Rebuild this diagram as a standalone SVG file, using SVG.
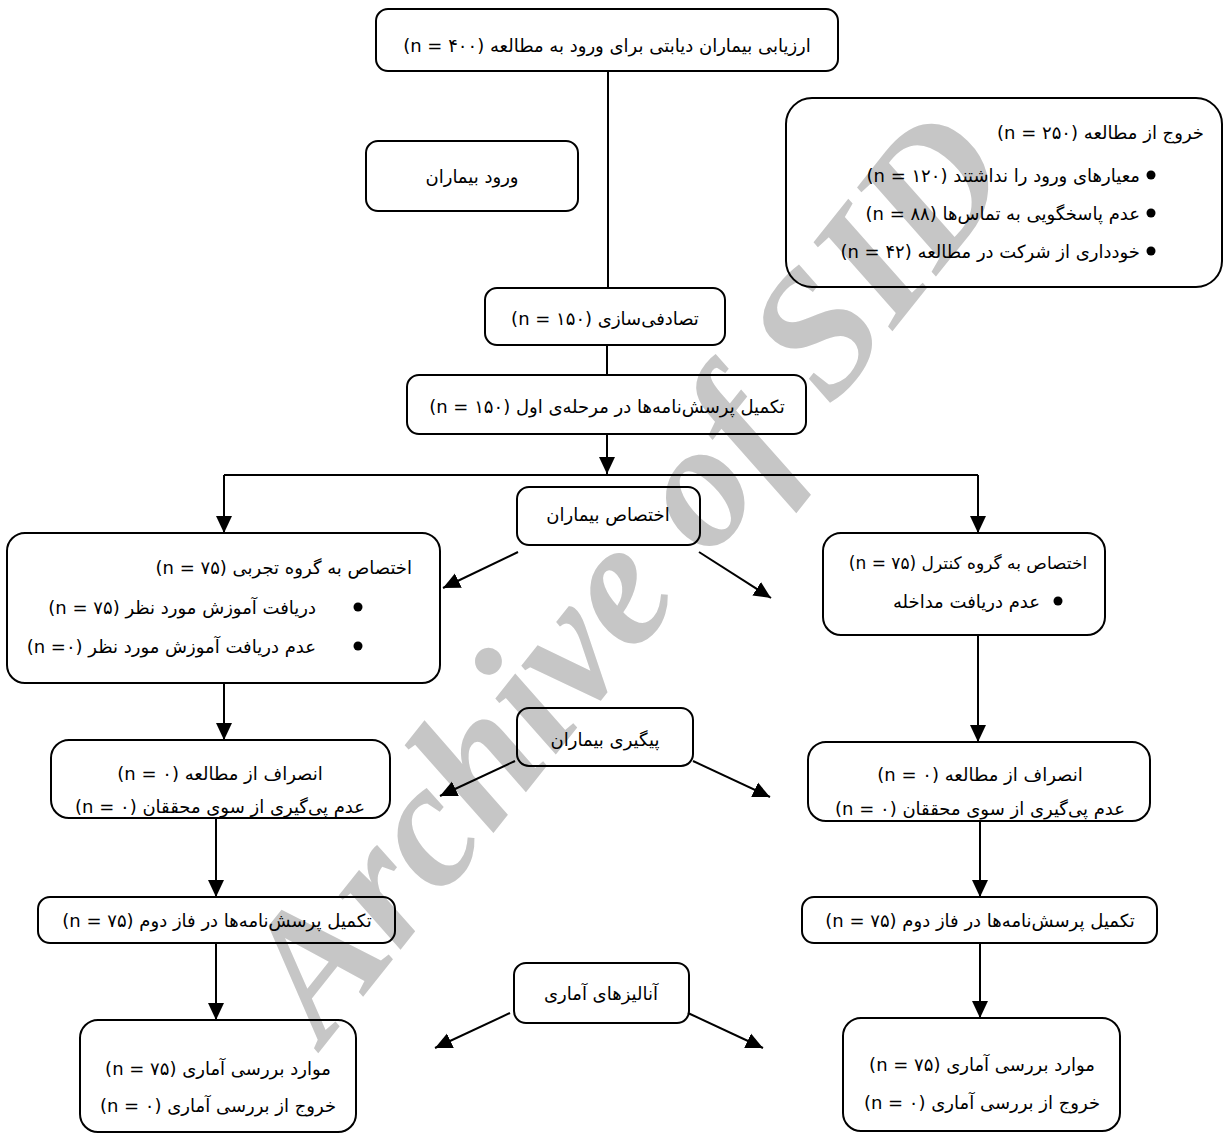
<svg xmlns="http://www.w3.org/2000/svg" width="1224" height="1140" viewBox="0 0 1224 1140">
<style>
.box{fill:none;stroke:#000;stroke-width:2}
.t{font-family:"DejaVu Sans",sans-serif;font-size:18px;fill:#000;direction:rtl}
.c{text-anchor:middle}
.r{text-anchor:start}
.ln{stroke:#000;stroke-width:2;fill:none}
.wm{font-family:"Liberation Serif",serif;font-weight:bold;font-style:italic;font-size:179px;fill:#c6c6c6}
</style>
<defs>
<marker id="ah" markerUnits="userSpaceOnUse" markerWidth="18" markerHeight="18" refX="17" refY="9" orient="auto">
<path d="M0,1 L17,9 L0,17 z" fill="#000"/>
</marker>
</defs>
<rect width="1224" height="1140" fill="#fff"/>
<text class="wm" transform="translate(324,1046) rotate(-51.5)">Archive of SID</text>

<g id="connectors">
<line class="ln" x1="608" y1="71" x2="608" y2="288"/>
<line class="ln" x1="607" y1="345" x2="607" y2="375"/>
<line class="ln" x1="607" y1="434" x2="607" y2="474" marker-end="url(#ah)"/>
<line class="ln" x1="224" y1="475" x2="978" y2="475"/>
<line class="ln" x1="224" y1="475" x2="224" y2="533" marker-end="url(#ah)"/>
<line class="ln" x1="978" y1="475" x2="978" y2="533" marker-end="url(#ah)"/>
<line class="ln" x1="518" y1="552" x2="443" y2="588" marker-end="url(#ah)"/>
<line class="ln" x1="699" y1="552" x2="771" y2="598" marker-end="url(#ah)"/>
<line class="ln" x1="224" y1="683" x2="224" y2="740" marker-end="url(#ah)"/>
<line class="ln" x1="978" y1="635" x2="978" y2="742" marker-end="url(#ah)"/>
<line class="ln" x1="515" y1="761" x2="440" y2="796" marker-end="url(#ah)"/>
<line class="ln" x1="693" y1="761" x2="770" y2="797" marker-end="url(#ah)"/>
<line class="ln" x1="216" y1="818" x2="216" y2="897" marker-end="url(#ah)"/>
<line class="ln" x1="980" y1="821" x2="980" y2="897" marker-end="url(#ah)"/>
<line class="ln" x1="216" y1="943" x2="216" y2="1020" marker-end="url(#ah)"/>
<line class="ln" x1="980" y1="943" x2="980" y2="1018" marker-end="url(#ah)"/>
<line class="ln" x1="510" y1="1013" x2="435" y2="1048" marker-end="url(#ah)"/>
<line class="ln" x1="688" y1="1013" x2="763" y2="1048" marker-end="url(#ah)"/>
</g>

<g id="n-assess">
<rect class="box" x="376" y="9" width="462" height="62" rx="12"/>
<text class="t c" x="607" y="52">ارزیابی بیماران دیابتی برای ورود به مطالعه (n = ۴۰۰)</text>
</g>
<g id="n-entry">
<rect class="box" x="366" y="141" width="212" height="70" rx="12"/>
<text class="t c" x="472" y="183">ورود بیماران</text>
</g>
<g id="n-exclude">
<rect class="box" x="786" y="98" width="436" height="189" rx="26"/>
<text class="t r" x="1204" y="139">خروج از مطالعه (n = ۲۵۰)</text>
<circle cx="1151" cy="175" r="4.5"/>
<text class="t r" x="1140" y="182">معیارهای ورود را نداشتند (n = ۱۲۰)</text>
<circle cx="1151" cy="213" r="4.5"/>
<text class="t r" x="1140" y="220">عدم پاسخگویی به تماس‌ها (n = ۸۸)</text>
<circle cx="1151" cy="251" r="4.5"/>
<text class="t r" x="1140" y="258">خودداری از شرکت در مطالعه (n = ۴۲)</text>
</g>
<g id="n-random">
<rect class="box" x="485" y="288" width="240" height="57" rx="12"/>
<text class="t c" x="605" y="325">تصادفی‌سازی (n = ۱۵۰)</text>
</g>
<g id="n-q1">
<rect class="box" x="407" y="375" width="399" height="59" rx="12"/>
<text class="t c" x="607" y="413">تکمیل پرسش‌نامه‌ها در مرحله‌ی اول (n = ۱۵۰)</text>
</g>
<g id="n-alloc">
<rect class="box" x="517" y="487" width="183" height="58" rx="12"/>
<text class="t c" x="608" y="521">اختصاص بیماران</text>
</g>
<g id="n-exp">
<rect class="box" x="7" y="533" width="433" height="150" rx="18"/>
<text class="t r" x="412" y="574">اختصاص به گروه تجربی (n = ۷۵)</text>
<circle cx="358" cy="607" r="4.5"/>
<text class="t r" x="316" y="614">دریافت آموزش مورد نظر (n = ۷۵)</text>
<circle cx="358" cy="646" r="4.5"/>
<text class="t r" x="316" y="653">عدم دریافت آموزش مورد نظر (n =۰)</text>
</g>
<g id="n-ctrl">
<rect class="box" x="823" y="533" width="282" height="102" rx="18"/>
<text class="t c" x="968" y="569" style="font-size:17px">اختصاص به گروه کنترل (n = ۷۵)</text>
<circle cx="1058" cy="601" r="4.5"/>
<text class="t r" x="1040" y="608">عدم دریافت مداخله</text>
</g>
<g id="n-follow">
<rect class="box" x="517" y="708" width="176" height="58" rx="12"/>
<text class="t c" x="605" y="746">پیگیری بیماران</text>
</g>
<g id="n-fl">
<rect class="box" x="51" y="740" width="339" height="78" rx="18"/>
<text class="t c" x="220" y="780">انصراف از مطالعه (n = ۰)</text>
<text class="t c" x="220" y="813">عدم پی‌گیری از سوی محققان (n = ۰)</text>
</g>
<g id="n-fr">
<rect class="box" x="808" y="742" width="342" height="79" rx="18"/>
<text class="t c" x="980" y="781">انصراف از مطالعه (n = ۰)</text>
<text class="t c" x="980" y="815">عدم پی‌گیری از سوی محققان (n = ۰)</text>
</g>
<g id="n-q2l">
<rect class="box" x="38" y="897" width="357" height="46" rx="12"/>
<text class="t c" x="217" y="927">تکمیل پرسش‌نامه‌ها در فاز دوم (n = ۷۵)</text>
</g>
<g id="n-q2r">
<rect class="box" x="802" y="897" width="355" height="46" rx="12"/>
<text class="t c" x="980" y="927">تکمیل پرسش‌نامه‌ها در فاز دوم (n = ۷۵)</text>
</g>
<g id="n-analysis">
<rect class="box" x="514" y="963" width="175" height="60" rx="12"/>
<text class="t c" x="601" y="1000">آنالیزهای آماری</text>
</g>
<g id="n-sl">
<rect class="box" x="80" y="1020" width="276" height="112" rx="18"/>
<text class="t c" x="218" y="1075">موارد بررسی آماری (n = ۷۵)</text>
<text class="t c" x="218" y="1112">خروج از بررسی آماری (n = ۰)</text>
</g>
<g id="n-sr">
<rect class="box" x="843" y="1018" width="277" height="113" rx="18"/>
<text class="t c" x="982" y="1071">موارد بررسی آماری (n = ۷۵)</text>
<text class="t c" x="982" y="1109">خروج از بررسی آماری (n = ۰)</text>
</g>
</svg>
